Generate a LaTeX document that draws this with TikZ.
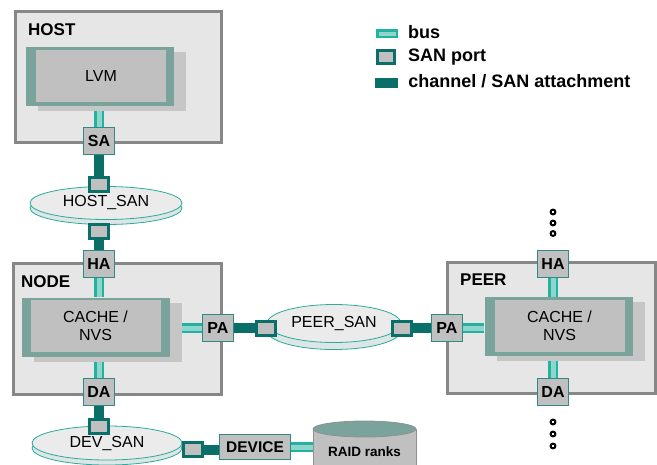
\documentclass[tikz,border=0pt]{standalone}
\usepackage{fontspec}
\setmainfont{Liberation Sans}
\usetikzlibrary{positioning,shapes.geometric,shadows}

\definecolor{boxfill}{HTML}{E6E6E6}
\definecolor{boxedge}{HTML}{878787}
\definecolor{frameteal}{HTML}{7AA39C}
\definecolor{coregray}{HTML}{C0C0C0}
\definecolor{shadegray}{HTML}{C6C6C6}
\definecolor{portedge}{HTML}{2E8A82}
\definecolor{chanteal}{HTML}{0A6E69}
\definecolor{busteal}{HTML}{22B2A2}
\definecolor{buslight}{HTML}{8ED6CC}
\definecolor{sanfill}{HTML}{EBEBEB}
\definecolor{sandisc}{HTML}{DDE6E4}
\definecolor{sanedge}{HTML}{2AAB9E}
\definecolor{raidedge}{HTML}{909090}

\begin{document}
\begin{tikzpicture}[
    x=1pt, y=-1pt,
    font=\fontsize{16}{18}\selectfont,
    sysbox/.style={rectangle, draw=boxedge, fill=boxfill, line width=3pt, minimum width=206pt, minimum height=131pt, inner sep=0pt},
    title/.style={font=\fontsize{17}{19}\selectfont\bfseries, inner sep=0pt, anchor=north west},
    frame/.style={rectangle, fill=frameteal, minimum width=148pt, minimum height=59pt, inner sep=0pt,
        general shadow={fill=shadegray, shadow xshift=12pt, shadow yshift=-5pt, opacity=1}},
    core/.style={rectangle, fill=coregray, minimum width=130pt, minimum height=52pt, inner sep=0pt, align=center},
    adapter/.style={rectangle, draw=portedge, fill=coregray, line width=1pt, minimum width=31pt, minimum height=27pt, inner sep=0pt, font=\fontsize{16}{18}\selectfont\bfseries},
    sanport/.style={rectangle, draw=chanteal, fill=coregray, line width=3pt, minimum width=19pt, minimum height=14pt, inner sep=0pt},
    san/.style={ellipse, draw=sanedge, fill=sanfill, line width=0.8pt, inner sep=0pt,
        copy shadow={shadow xshift=0pt, shadow yshift=-5pt, fill=sandisc, draw=sanedge, line width=0.8pt}},
    bus/.style={draw=busteal, double=buslight, line width=2.5pt, double distance=5pt},
    channel/.style={draw=chanteal, line width=10pt},
    dot/.style={circle, draw=black, fill=white, line width=2pt, minimum size=4.8pt, inner sep=0pt},
    key/.style={font=\fontsize{18}{20}\selectfont\bfseries, inner sep=0pt, text height=13pt, text depth=4pt}
]
\useasboundingbox (0,0) rectangle (657,464);

% systems
\node[sysbox] (hostbox) at (118,76.5) {};
\node[sysbox, minimum width=208pt] (nodebox) at (117,328.5) {};
\node[sysbox, minimum width=208pt] (peerbox) at (551,327.5) {};
\node[title] (hostlbl) at (28,23) {HOST};
\node[title] (nodelbl) at (21,275) {NODE};
\node[title] (peerlbl) at (460,274) {PEER};

% inner components
\node[frame] (lvmf) at (100,76) {};
\node[core] (lvm) at (101,75.5) {LVM};
\node[frame] (cachef) at (95.5,327) {};
\node[core] (cache) at (95.5,326) {CACHE /\\NVS};
\node[frame] (pcachef) at (558.5,326.5) {};
\node[core] (pcache) at (559.5,325.5) {CACHE /\\NVS};

% adapters
\node[adapter] (sa) at (99,141) {SA};
\node[adapter] (ha) at (99,264) {HA};
\node[adapter] (da) at (99,392) {DA};
\node[adapter] (pa) at (218,328) {PA};
\node[adapter] (ppa) at (447,328) {PA};
\node[adapter] (pha) at (553,264) {HA};
\node[adapter] (pda) at (553,392) {DA};
\node[adapter, minimum width=71pt, minimum height=25pt, font=\fontsize{15.5}{17}\selectfont\bfseries] (device) at (255,447) {DEVICE};

% storage networks
\node[san, minimum width=152pt, minimum height=33pt] (hostsan) at (106,203) {HOST\_SAN};
\node[san, minimum width=134pt, minimum height=38pt, copy shadow={shadow xshift=0pt, shadow yshift=-7pt, fill=sandisc, draw=sanedge, line width=0.8pt}] (peersan) at (334,323.5) {PEER\_SAN};
\node[san, minimum width=150pt, minimum height=34pt] (devsan) at (107,443) {DEV\_SAN};

% san ports
\node[sanport] (hsp1) at (99,184) {};
\node[sanport] (hsp2) at (99,231.5) {};
\node[sanport] (dsp1) at (99,426.5) {};
\node[sanport] (dsp2) at (193,449.5) {};
\node[sanport] (psp1) at (266,328) {};
\node[sanport] (psp2) at (402,328) {};

% raid ranks
\fill[coregray] (313,429) rectangle (416,466);
\draw[raidedge, line width=0.8pt] (313,466) -- (313,429) (416,429) -- (416,466);
\draw[raidedge, fill=frameteal, line width=0.8pt] (364.5,429) ellipse [x radius=51.5, y radius=8];
\node[font=\fontsize{13.5}{15}\selectfont\bfseries, minimum width=103pt, inner sep=0pt] (raid) at (364.5,452) {RAID ranks};

% buses and channels
\draw[bus, shorten >=5pt] (sa.north) -- (sa.north |- lvmf.south);
\draw[channel] (sa.south) -- (hsp1.north);
\draw[channel] (hsp2.south) -- (ha.north);
\draw[bus] (ha.south) -- (ha.south |- cachef.north);
\draw[bus, shorten >=5pt] (da.north) -- (da.north |- cachef.south);
\draw[channel] (da.south) -- (dsp1.north);
\draw[channel] (dsp2.east) -- (dsp2.east -| device.west);
\draw[bus] (device.east) -- (device.east -| raid.west);
\draw[bus, shorten >=12pt] (pa.west) -- (pa.west -| cachef.east);
\draw[channel] (pa.east) -- (psp1.west);
\draw[channel] (psp2.east) -- (ppa.west);
\draw[bus] (ppa.east) -- (ppa.east -| pcachef.west);
\draw[bus] (pha.south) -- (pha.south |- pcachef.north);
\draw[bus, shorten >=5pt] (pda.north) -- (pda.north |- pcachef.south);

% more peers
\foreach \y [count=\i] in {212,223,233.5}
  \node[dot] (up\i) at (553,\y) {};
\foreach \y [count=\i] in {422,434,446}
  \node[dot] (down\i) at (553,\y) {};

% legend
\node[rectangle, draw=busteal, fill=buslight, line width=2.5pt, minimum width=19.5pt, minimum height=6.5pt, inner sep=0pt] (lbus) at (387,33.5) {};
\node[sanport, minimum width=17pt, minimum height=13pt] (lport) at (386,57) {};
\node[rectangle, fill=chanteal, minimum width=23pt, minimum height=10pt, inner sep=0pt] (lchan) at (386.5,83) {};
\node[key, right=10pt of lbus] (lbustxt) {bus};
\node[key, right=12pt of lport] (lporttxt) {SAN port};
\node[key, right=10pt of lchan] (lchantxt) {channel / SAN attachment};
\end{tikzpicture}
\end{document}
